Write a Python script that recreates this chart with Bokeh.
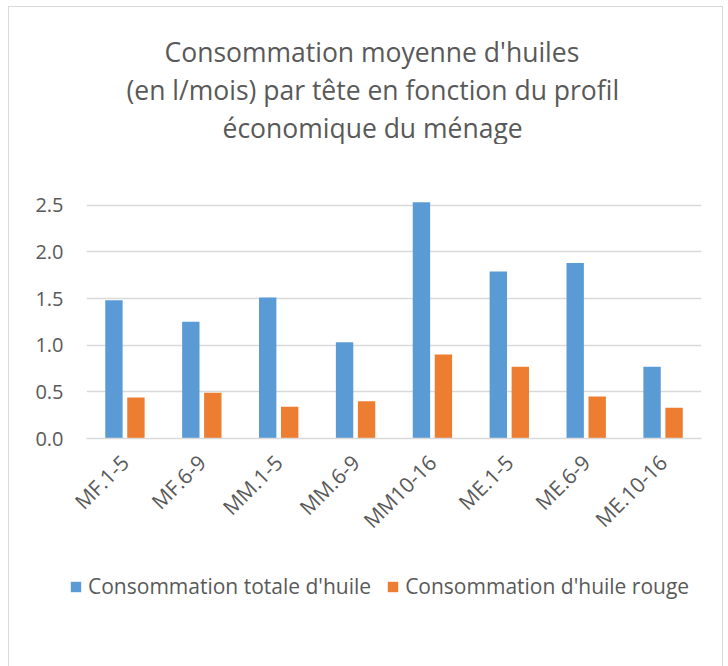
from bokeh.plotting import figure
from bokeh.models import (FactorRange, Range1d, FixedTicker, Title, Legend, LegendItem,
                          ColumnDataSource, NumeralTickFormatter)
from bokeh.layouts import column
from bokeh.transform import dodge
from bokeh.embed import file_html
from bokeh.resources import INLINE
import math

categories = ["MF.1-5", "MF.6-9", "MM.1-5", "MM.6-9", "MM10-16", "ME.1-5", "ME.6-9", "ME.10-16"]
totale = [1.48, 1.25, 1.51, 1.03, 2.53, 1.79, 1.88, 0.77]
rouge = [0.44, 0.49, 0.34, 0.40, 0.90, 0.77, 0.45, 0.33]
y_ticks = [0.0, 0.5, 1.0, 1.5, 2.0, 2.5]
title_lines = ["Consommation moyenne d'huiles",
               "(en l/mois) par tête en fonction du profil",
               "économique du ménage"]
title_offsets = [78, 40, 136]
series_names = ["Consommation totale d'huile", "Consommation d'huile rouge"]

FONT = "Open Sans"
GREY = "#595959"
BLUE = "#5B9BD5"
ORANGE = "#ED7D31"
BORDER = "1px solid #D9D9D9"
W = 715

# ---- title block ----
tfig = figure(width=W, height=138, x_range=Range1d(0, 1), y_range=Range1d(0, 1),
              output_backend="svg", toolbar_location=None,
              x_axis_location=None, y_axis_location=None,
              min_border_left=77, min_border_right=23, min_border_top=0, min_border_bottom=0)
tfig.grid.visible = False
tfig.outline_line_color = None
tfig.styles = {"border-top": BORDER, "border-left": BORDER, "border-right": BORDER}
for line, off in zip(title_lines, title_offsets):
    tfig.add_layout(Title(text=line, align="left", offset=off, text_font=FONT,
                          text_font_size="26.5px", text_font_style="normal",
                          text_color=GREY, standoff=0), "below")

# ---- main chart ----
src = ColumnDataSource(dict(cat=categories, totale=totale, rouge=rouge))
p = figure(width=W, height=418, x_range=FactorRange(*categories, range_padding=0),
           y_range=Range1d(0, 2.55), output_backend="svg", toolbar_location=None,
           min_border_left=77, min_border_right=23, min_border_top=56, min_border_bottom=124)
p.styles = {"border-left": BORDER, "border-right": BORDER}

r1 = p.vbar(x=dodge("cat", -0.143, range=p.x_range), top="totale", width=0.226,
            source=src, fill_color=BLUE, line_color=None)
r2 = p.vbar(x=dodge("cat", 0.143, range=p.x_range), top="rouge", width=0.226,
            source=src, fill_color=ORANGE, line_color=None)

p.outline_line_color = None
p.xgrid.grid_line_color = None
p.ygrid.grid_line_color = "#D9D9D9"
p.ygrid.grid_line_width = 1.3
p.yaxis.ticker = FixedTicker(ticks=y_ticks)
p.yaxis.formatter = NumeralTickFormatter(format="0.0")
p.yaxis.axis_line_color = None
p.yaxis.major_tick_line_color = None
p.yaxis.minor_tick_line_color = None
p.yaxis.major_tick_out = 0
p.yaxis.major_tick_in = 0
p.yaxis.major_label_standoff = 23
p.yaxis.major_label_text_font = FONT
p.yaxis.major_label_text_font_size = "20px"
p.yaxis.major_label_text_color = GREY

p.xaxis.axis_line_color = "#D9D9D9"
p.xaxis.axis_line_width = 1.3
p.xaxis.major_tick_line_color = None
p.xaxis.minor_tick_line_color = None
p.xaxis.major_tick_out = 0
p.xaxis.major_tick_in = 0
p.xaxis.major_label_orientation = math.pi / 4
p.xaxis.major_label_standoff = 20
p.xaxis.major_label_text_font = FONT
p.xaxis.major_label_text_font_size = "21px"
p.xaxis.major_label_text_color = GREY

# ---- legend block ----
lfig = figure(width=W, height=104, x_range=Range1d(0, 1), y_range=Range1d(0, 1),
              output_backend="svg", toolbar_location=None,
              x_axis_location=None, y_axis_location=None,
              min_border_left=50, min_border_right=0, min_border_top=0, min_border_bottom=0)
lfig.grid.visible = False
lfig.outline_line_color = None
lfig.styles = {"border-left": BORDER, "border-right": BORDER}
lr1 = lfig.vbar(x=[5], top=[5], width=0.2, fill_color=BLUE, line_color=None)
lr2 = lfig.vbar(x=[5], top=[5], width=0.2, fill_color=ORANGE, line_color=None)
legend = Legend(items=[LegendItem(label=series_names[0], renderers=[lr1]),
                       LegendItem(label=series_names[1], renderers=[lr2])],
                orientation="horizontal", location="top_left",
                label_text_font=FONT, label_text_font_size="21px", label_text_color=GREY,
                glyph_width=13, glyph_height=13, label_standoff=6, spacing=15,
                border_line_color=None, background_fill_alpha=0, padding=0, margin=10)
lfig.add_layout(legend, "center")

layout = column(tfig, p, column(lfig, spacing=0), spacing=0, margin=(6, 0, 0, 8))
open("out.html", "w").write(file_html(layout, INLINE))
